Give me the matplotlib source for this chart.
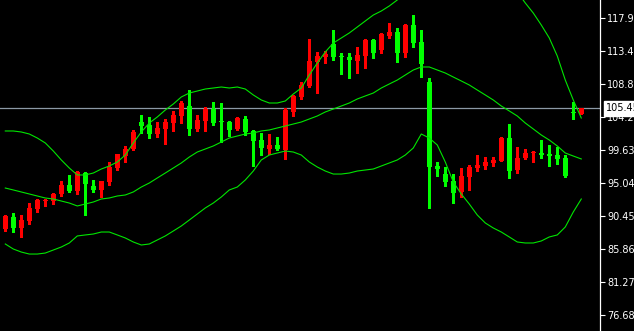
import matplotlib
matplotlib.use("Agg")
import matplotlib.pyplot as plt
from matplotlib.patches import Rectangle
import matplotlib.transforms as mtransforms

opens = [88.63, 90.30, 88.77, 89.74, 91.42, 92.60, 92.53, 93.51, 94.76, 93.93,
         96.43, 94.62, 94.07, 95.18, 97.13, 98.80, 99.78, 103.54, 103.12, 101.87,
         102.57, 103.40, 104.38, 105.77, 102.57, 103.68, 105.35, 103.56, 103.54, 102.57,
         103.96, 102.29, 101.03, 99.78, 100.34, 99.64, 104.94, 107.03, 108.56, 111.90,
         112.60, 114.41, 112.58, 112.60, 112.04, 112.74, 114.97, 113.58, 115.53, 116.09,
         113.16, 117.06, 114.69, 109.12, 97.41, 96.30, 95.32, 93.79, 95.88, 97.13,
         97.41, 97.83, 98.11, 101.31, 96.85, 98.52, 99.20, 99.22, 99.08, 98.94,
         98.52, 104.82, 104.66]
highs = [90.58, 90.86, 90.58, 92.25, 92.81, 92.85, 93.65, 95.32, 96.16, 96.71,
         96.57, 95.46, 95.35, 97.97, 99.10, 100.20, 102.43, 104.52, 104.24, 103.54,
         103.96, 105.08, 106.47, 108.00, 104.52, 105.63, 106.33, 106.19, 103.68, 104.24,
         104.38, 102.43, 102.01, 101.87, 101.45, 105.49, 107.31, 109.12, 115.11, 113.30,
         113.44, 116.36, 113.16, 113.16, 113.99, 115.11, 115.11, 115.95, 117.34, 116.64,
         117.20, 118.45, 116.36, 109.67, 97.97, 97.27, 96.30, 97.13, 97.55, 98.94,
         98.66, 98.66, 101.45, 103.26, 100.06, 99.78, 99.50, 101.03, 100.34, 100.06,
         98.94, 106.33, 105.49]
lows = [88.39, 88.21, 87.56, 89.33, 91.00, 91.84, 92.16, 93.23, 93.79, 93.51,
        90.58, 93.79, 93.09, 94.76, 96.85, 97.97, 99.64, 102.01, 101.31, 101.45,
        100.48, 102.29, 103.40, 101.73, 102.29, 102.29, 103.12, 100.75, 101.59, 102.43,
        101.73, 97.41, 98.94, 99.08, 99.64, 98.39, 104.38, 106.75, 108.42, 107.58,
        111.76, 112.18, 110.23, 109.67, 110.37, 111.07, 112.46, 113.16, 115.25, 111.90,
        112.60, 113.99, 109.81, 91.56, 96.02, 94.62, 92.25, 93.09, 94.07, 96.71,
        96.99, 97.41, 98.06, 95.74, 96.43, 98.39, 97.97, 98.52, 97.41, 97.69,
        95.88, 103.96, 104.66]
closes = [90.44, 88.77, 89.88, 91.60, 92.71, 92.63, 93.51, 94.76, 93.93, 96.57,
          94.90, 94.07, 95.32, 97.27, 99.08, 99.78, 102.15, 102.98, 101.87, 102.71,
          103.54, 104.52, 106.19, 102.57, 103.82, 105.35, 103.40, 103.54, 102.43, 104.10,
          102.15, 100.89, 99.92, 100.34, 99.78, 105.21, 107.17, 108.70, 112.04, 112.74,
          113.02, 112.60, 112.56, 112.18, 112.88, 114.97, 113.16, 115.81, 116.09, 113.16,
          117.06, 114.55, 111.63, 97.27, 96.99, 95.18, 93.65, 96.02, 97.27, 97.55,
          97.97, 98.25, 101.31, 96.71, 98.52, 99.22, 99.22, 98.94, 98.80, 98.39,
          96.02, 104.80, 105.45]

bb_upper = [102.29, 102.29, 102.15, 101.87, 101.31, 100.62, 99.50, 98.25, 97.13, 96.16,
            96.16, 96.43, 96.99, 97.41, 97.97, 98.94, 100.62, 102.15, 103.40, 104.24,
            105.21, 106.05, 107.03, 107.58, 107.86, 108.14, 108.28, 108.42, 108.28, 108.42,
            108.14, 107.31, 106.61, 106.19, 106.19, 106.47, 107.44, 108.28, 110.09, 111.76,
            113.30, 114.55, 115.25, 115.95, 116.78, 117.62, 118.45, 119.01, 119.71, 120.55,
            121.38, 121.94, 121.66, 121.66, 121.94, 122.77, 124.45, 125.00, 125.28, 125.42,
            125.14, 124.45, 123.33, 122.64, 121.66, 120.13, 118.73, 117.06, 115.25, 112.74,
            109.39, 106.61, 104.10]
bb_middle = [94.34, 94.07, 93.79, 93.51, 93.23, 92.95, 92.81, 92.53, 92.25, 91.84,
             92.11, 92.39, 92.81, 92.95, 93.23, 93.37, 93.79, 94.48, 95.04, 95.74,
             96.43, 97.13, 97.83, 98.66, 99.36, 99.78, 100.20, 100.75, 101.31, 101.59,
             101.87, 102.01, 102.29, 102.43, 102.71, 102.98, 103.26, 103.54, 103.96, 104.38,
             104.94, 105.35, 105.77, 106.19, 106.75, 107.17, 107.58, 108.28, 108.84, 109.39,
             110.09, 110.79, 111.21, 111.21, 110.79, 110.37, 109.81, 109.26, 108.70, 108.00,
             107.31, 106.61, 105.77, 105.08, 104.38, 103.40, 102.57, 101.73, 101.03, 100.20,
             99.22, 98.80, 98.39]
bb_lower = [86.54, 85.84, 85.42, 85.14, 85.14, 85.28, 85.70, 86.12, 86.68, 87.66,
            87.80, 87.93, 88.21, 88.21, 87.80, 87.38, 86.82, 86.40, 86.54, 87.10,
            87.66, 88.35, 89.05, 89.88, 90.72, 91.56, 92.25, 93.09, 94.07, 94.48,
            95.46, 96.71, 98.25, 98.94, 99.22, 99.50, 99.36, 98.94, 97.97, 97.27,
            96.71, 96.29, 96.29, 96.43, 96.71, 96.85, 96.99, 97.41, 97.83, 98.25,
            98.94, 99.92, 101.87, 101.31, 100.34, 97.97, 95.18, 93.51, 92.11, 90.58,
            89.47, 88.77, 88.21, 87.52, 86.82, 86.68, 86.68, 86.96, 87.52, 87.80,
            88.91, 91.00, 92.81]

last_price = 105.45
last_price_label = "105.45"
ytick_values = [117.99, 113.40, 108.81, 104.22, 99.635, 95.045, 90.455, 85.865, 81.275, 76.685]
ytick_labels = ["117.99", "113.40", "108.81", "104.22", "99.635", "95.045", "90.455",
                "85.865", "81.275", "76.685"]

UP = "#ff0000"
DOWN = "#00ff00"
BAND = "#00e600"

W, H = 634, 331
fig = plt.figure(figsize=(W / 100, H / 100), dpi=100, facecolor="black")
ax = fig.add_axes([0, 0, 600 / W, 1])
ax.set_facecolor("black")

n = len(opens)
idx = list(range(n))

# price line
ax.axhline(last_price, color="#8c99a6", lw=0.9, zorder=1)

for i in idx:
    o, h, l, c = opens[i], highs[i], lows[i], closes[i]
    col = UP if c >= o else DOWN
    ax.vlines(i, l, h, color=col, lw=0.8, zorder=2, antialiased=False)
    bottom = min(o, c)
    height = max(abs(c - o), 0.14)
    ax.bar(i, height, bottom=bottom, width=0.62, color=col, linewidth=0,
           zorder=3, antialiased=False)

for band in (bb_upper, bb_middle, bb_lower):
    ax.plot(idx, band, color=BAND, lw=0.8, zorder=4)

ax.set_xlim(-0.6625, 74.34)
ax.set_ylim(74.414, 120.545)

ax.set_xticks([])
ax.yaxis.tick_right()
ax.set_yticks(ytick_values)
ax.set_yticklabels(ytick_labels)
ax.tick_params(axis="y", colors="white", length=3.5, width=0.8, pad=1.5,
               labelsize=7, direction="out")
for s in ("top", "bottom", "left"):
    ax.spines[s].set_visible(False)
ax.spines["right"].set_color("white")
ax.spines["right"].set_linewidth(0.9)

# last price label box
trans = mtransforms.blended_transform_factory(fig.transFigure, ax.transData)
fig.text(606 / W, last_price, last_price_label, transform=trans, color="black",
         fontsize=7, va="center", ha="left", zorder=6,
         bbox=dict(boxstyle="square,pad=0.25", facecolor="white", edgecolor="white"))

fig.savefig("out.png", dpi=100, facecolor="black")
